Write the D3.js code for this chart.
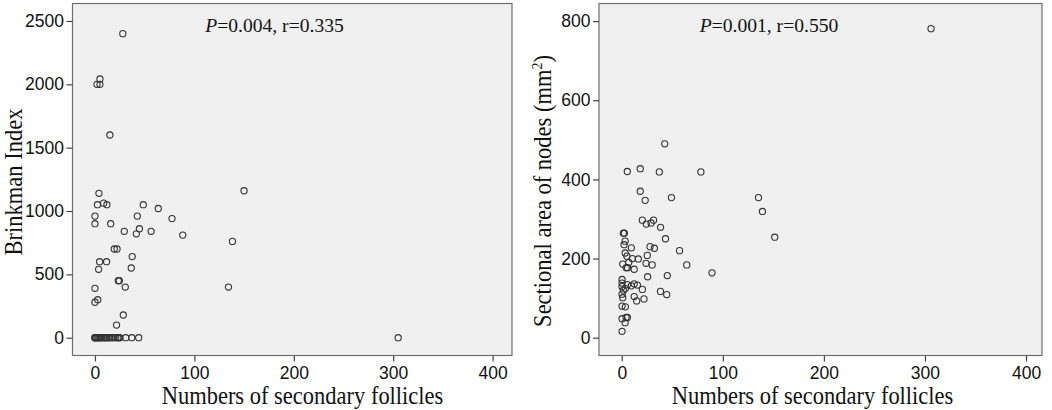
<!DOCTYPE html>
<html>
<head>
<meta charset="utf-8">
<script src="https://cdn.jsdelivr.net/npm/d3@7"></script>
<style>
  body { margin: 0; background: #fff; }
  svg { display: block; }
</style>
</head>
<body>
<svg id="chart" width="1052" height="410"></svg>
<script>
// left panel: secondary follicles vs Brinkman index
const brinkX = [0, 0, 0, 1, 2, 3, 4, 5, 6, 7, 9, 10, 11, 12, 14, 15, 17, 19, 21, 23, 24, 25, 31, 37, 44,
  28, 5, 2, 5, 15, 150, 4, 2.5, 8.7, 12, 48.6, 63.7, 0, 42.6, 77.5, 0, 15.8, 29.5, 44.7, 41.6, 56.5,
  88.3, 138.3, 19.4, 22.2, 37.5, 4.7, 11.7, 3.7, 36.5, 23.5, 24.5, 30.5, 134.3, 0, 2.8, 0, 28.5, 21.7, 305];
const brinkY = [0, 0, 0, 0, 0, 0, 0, 0, 0, 0, 0, 0, 0, 0, 0, 0, 0, 0, 0, 0, 0, 0, 0, 0, 0,
  2400, 2042, 2000, 2000, 1600, 1160, 1140, 1050, 1062, 1050, 1050, 1020, 960, 960, 940, 900, 900, 840, 860, 820, 840,
  810, 760, 700, 700, 640, 600, 600, 540, 550, 450, 450, 400, 400, 390, 300, 280, 179, 100, 0];

// right panel: secondary follicles vs sectional area of nodes
const areaX = [306, 42.5, 5.5, 18.3, 37.2, 78.3, 18.3, 23.2, 49.2, 135.3, 139.2, 151.4, 20.4, 24.3, 29, 31.5,
  38.4, 1.6, 2.6, 43.3, 3.4, 2.3, 9.5, 28, 32.3, 57.2, 3.4, 5.1, 10.5, 16.4, 25.3, 1, 6.9, 4.4, 5.7, 12.3,
  24, 30.1, 64.3, 89.3, 25.6, 45.1, 0.3, 0.3, 0.3, 5.6, 9.5, 12.3, 15.5, 1.6, 3.6, 20.4, 0.3, 1, 12.3,
  14.8, 22, 38.3, 44.5, 0.3, 3.6, 4.3, 5.6, 0.3, 3.3, 0.3];
const areaY = [781, 490, 420, 427, 419, 419, 370, 347, 354, 354, 319, 254, 297, 287, 290, 297,
  279, 264, 264, 250, 244, 235, 227, 230, 226, 220, 214, 206, 200, 199, 208, 186, 190, 177, 177, 173,
  188, 184, 184, 164, 154, 157, 147, 138, 129, 134, 131, 136, 133, 120, 124, 122, 110, 101, 104,
  93, 98, 117, 109, 80, 78, 51, 51, 48, 38, 16];

const xTicks = [0, 100, 200, 300, 400];
const brinkTicks = [0, 500, 1000, 1500, 2000, 2500];
const areaTicks = [0, 200, 400, 600, 800];

const serif = "'Liberation Serif', 'Times New Roman', serif";
const sans = "'Liberation Sans', Arial, sans-serif";

const svg = d3.select('#chart');

function scatter(opt) {
  const g = svg.append('g').attr('transform', `translate(${opt.left},${opt.top})`);
  const x = d3.scaleLinear().domain(opt.xDomain).range([0, opt.width]);
  const y = d3.scaleLinear().domain(opt.yDomain).range([opt.height, 0]);

  g.append('rect')
    .attr('width', opt.width).attr('height', opt.height)
    .attr('fill', '#f0f0f0').attr('stroke', '#6e6e6e').attr('stroke-width', 1.2);

  const xAxis = g.append('g').attr('transform', `translate(0,${opt.height})`)
    .call(d3.axisBottom(x).tickValues(xTicks).tickFormat(d3.format('d'))
      .tickSize(6).tickPadding(5).tickSizeOuter(0));
  const yAxis = g.append('g')
    .call(d3.axisLeft(y).tickValues(opt.yTicks).tickFormat(d3.format('d'))
      .tickSize(6).tickPadding(2.5).tickSizeOuter(0));
  for (let ax of [xAxis, yAxis]) {
    ax.select('.domain').remove();
    ax.selectAll('line').attr('stroke', '#444').attr('stroke-width', 1.2);
    ax.selectAll('text').attr('fill', '#111').style('font-family', sans).style('font-size', '17.5px');
  }

  const pts = d3.zip(opt.xs, opt.ys);
  g.append('g').selectAll('circle').data(pts).join('circle')
    .attr('cx', d => x(d[0])).attr('cy', d => y(d[1])).attr('r', 3.1)
    .attr('fill', 'none').attr('stroke', '#333').attr('stroke-width', 1.1);

  // statistics note
  const note = g.append('text').attr('x', opt.noteX).attr('y', 28.5)
    .attr('text-anchor', 'middle').style('font-family', serif).style('font-size', '19.6px').attr('fill', '#111');
  note.append('tspan').style('font-style', 'italic').text('P');
  note.append('tspan').text(opt.note);

  g.append('text')
    .attr('transform', `translate(${opt.xLabelX},${opt.height + 48}) scale(1,1.1)`)
    .attr('text-anchor', 'middle').style('font-family', serif).style('font-size', '22.5px').attr('fill', '#111')
    .text('Numbers of secondary follicles');

  const yl = g.append('text')
    .attr('transform', `translate(${opt.yLabelX},${opt.yLabelY}) rotate(-90) scale(1,1.08)`)
    .attr('text-anchor', 'middle').style('font-family', serif).style('font-size', '22.5px').attr('fill', '#111');
  yl.append('tspan').text(opt.yLabel);
  if (opt.sup) {
    yl.append('tspan').attr('dy', -8).style('font-size', '14px').text(opt.sup);
    yl.append('tspan').attr('dy', 8).text(')');
  }
}

scatter({
  left: 72.5, top: 3.5, width: 439.5, height: 352,
  xDomain: [-22.6, 419.5], yDomain: [-140.5, 2638],
  yTicks: brinkTicks, xs: brinkX, ys: brinkY,
  note: '=0.004, r=0.335', noteX: 202,
  xLabelX: 230, yLabel: 'Brinkman Index', yLabelX: -51, yLabelY: 178.5
});

scatter({
  left: 599, top: 3.5, width: 443, height: 352,
  xDomain: [-22.5, 415.8], yDomain: [-45, 844.5],
  yTicks: areaTicks, xs: areaX, ys: areaY,
  note: '=0.001, r=0.550', noteX: 170,
  xLabelX: 213.5, yLabel: 'Sectional area of nodes (mm', sup: '2', yLabelX: -48.5, yLabelY: 187.5
});
</script>
</body>
</html>
